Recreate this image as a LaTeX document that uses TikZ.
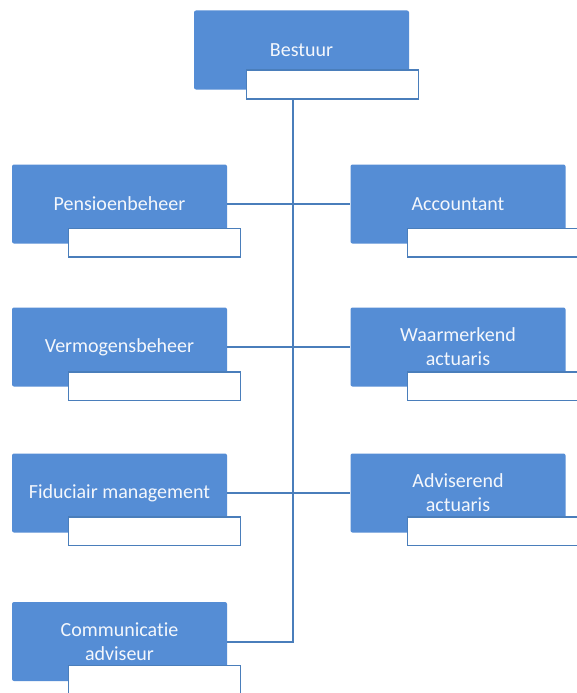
\documentclass[tikz,border=0pt]{standalone}
\usepackage{fontspec}
\setmainfont{Carlito}[Ligatures={NoCommon,NoContextual}]
\definecolor{boxblue}{RGB}{85,141,213}
\definecolor{lineblue}{RGB}{74,126,187}
\definecolor{txtwhite}{RGB}{244,247,252}
\begin{document}
\begin{tikzpicture}[x=1pt,y=-1pt,
  mainbox/.style={fill=boxblue, rounded corners=2pt, minimum width=215pt, minimum height=79pt,
     inner sep=0pt, text=txtwhite, font=\fontsize{20}{24}\selectfont, align=center, anchor=center},
  subbox/.style={draw=lineblue, line width=1.6pt, fill=white, minimum width=172pt, minimum height=28.5pt,
     inner sep=0pt, anchor=north west},
  conn/.style={draw=lineblue, line width=2pt}]
\useasboundingbox (0,0) rectangle (576,693);
\fill[white] (0,0) rectangle (576,693);
\coordinate (spine) at (292.7,0);
% main boxes
\node[mainbox] (bes) at (301.5,50) {Bestuur};
\node[mainbox] (pen) at (119.5,204) {Pensioenbeheer};
\node[mainbox] (ver) at (119.5,347) {Vermogensbeheer};
\node[mainbox] (fid) at (119.5,493) {Fiduciair management};
\node[mainbox] (com) at (119.5,641.5) {Communicatie\\adviseur};
\node[mainbox] (acc) at (458,204) {Accountant};
\node[mainbox] (waa) at (458,347) {Waarmerkend\\actuaris};
\node[mainbox] (adv) at (458,493) {Adviserend\\actuaris};
% sub boxes
\node[subbox] (besw) at (245.5,69.5) {};
\node[subbox] (penw) at (67.5,227.5) {};
\node[subbox] (verw) at (67.5,371) {};
\node[subbox] (fidw) at (67.5,516) {};
\node[subbox] (comw) at (67.5,664.5) {};
\node[subbox] (accw) at (406.5,227.5) {};
\node[subbox] (waaw) at (406.5,371) {};
\node[subbox] (advw) at (406.5,516) {};
% connectors
\draw[conn] (spine |- besw.south) -- (spine |- com.east) -- (com.east);
\draw[conn] (pen.east) -- (acc.west);
\draw[conn] (ver.east) -- (waa.west);
\draw[conn] (fid.east) -- (adv.west);
\end{tikzpicture}
\end{document}
